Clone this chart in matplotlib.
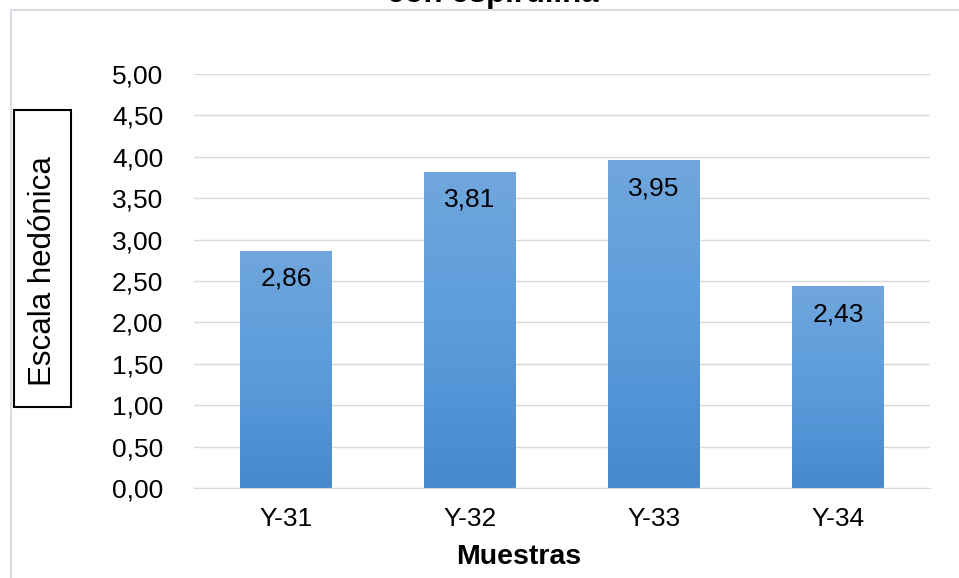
import matplotlib.pyplot as plt
import numpy as np
from matplotlib.colors import LinearSegmentedColormap
from matplotlib.patches import Rectangle

muestras = ["Y-31", "Y-32", "Y-33", "Y-34"]
valores = [2.86, 3.81, 3.95, 2.43]
etiquetas = ["2,86", "3,81", "3,95", "2,43"]
yticks = [0, 0.5, 1, 1.5, 2, 2.5, 3, 3.5, 4, 4.5, 5]

plt.rcParams['font.family'] = ['Liberation Sans', 'DejaVu Sans']

fig = plt.figure(figsize=(9.59, 5.78), dpi=100)
W, H = 959, 578
ax = fig.add_axes([194 / W, 1 - 488 / H, 736 / W, 414 / H])

# chart area border (partially outside the figure)
fig.patches.append(Rectangle((11 / W, -0.1), 1.2, 1 - 10 / H + 0.1,
                             transform=fig.transFigure, fill=False,
                             edgecolor='#d9dde6', linewidth=1.5))
# title, mostly cut off by the top edge
fig.text(493 / W, 1 - 2 / H, "con espirulina", ha='center', va='baseline',
         fontsize=22.5, fontweight='bold')

cmap = LinearSegmentedColormap.from_list('g', ['#468acb', '#5b9cdc', '#70a6dc'])
grad = np.linspace(0, 1, 256).reshape(-1, 1)
x = np.arange(len(muestras))
bars = ax.bar(x, valores, width=0.5, color='none', zorder=2)
for b, lab in zip(bars, etiquetas):
    x0, w, h = b.get_x(), b.get_width(), b.get_height()
    ax.imshow(grad, extent=[x0, x0 + w, 0, h], origin='lower', cmap=cmap,
              aspect='auto', zorder=2)
    ax.text(x0 + w / 2, h - 0.33, lab, ha='center', va='center', fontsize=19)

ax.set_xlim(-0.5, 3.5)
ax.set_ylim(0, 5)
ax.set_yticks(yticks)
ax.set_yticklabels([f"{v:.2f}".replace('.', ',') for v in yticks], fontsize=19)
ax.set_xticks(x)
ax.set_xticklabels(muestras, fontsize=19)
ax.tick_params(length=0, pad=22)
ax.tick_params(axis='x', pad=14)
ax.grid(axis='y', color='#d9d9d9', linewidth=1, zorder=0)
ax.set_axisbelow(True)
for s in ['top', 'right', 'left']:
    ax.spines[s].set_visible(False)
ax.spines['bottom'].set_color('#d9d9d9')

fig.text(519 / W, 1 - 557 / H, "Muestras", ha='center', va='center',
         fontsize=20.5, fontweight='bold')

# boxed y label
fig.patches.append(Rectangle((14 / W, 1 - 407 / H), 57 / W, 297 / H,
                             transform=fig.transFigure, facecolor='white',
                             edgecolor='black', linewidth=1.5))
fig.text(43 / W, 1 - 271 / H, "Escala hedónica", rotation=90, ha='center',
         va='center', fontsize=22.5)

fig.savefig("out.png", dpi=100)
